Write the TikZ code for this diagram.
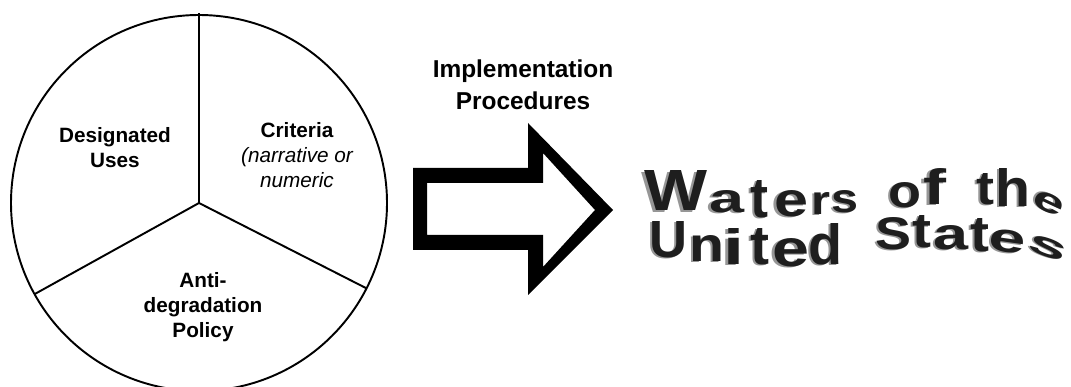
\documentclass[tikz,border=0pt]{standalone}
\usepackage{fontspec}
\setmainfont{Liberation Sans}
\usepackage{graphicx}
\usepackage{tikz}
\usetikzlibrary{calc}
\definecolor{inkblack}{RGB}{30,30,30}
\definecolor{shadowgray}{RGB}{150,150,150}
\newcommand{\shadowed}[1]{\leavevmode\rlap{\kern-0.035em\raisebox{-0.02em}[\height][0pt]{\color{shadowgray}#1}}#1}
\tikzstyle{pielabel}=[align=center, inner sep=0pt, font=\bfseries\fontsize{5.9}{7.1}\selectfont]
\tikzstyle{wletter}=[inner sep=0pt, text=inkblack, font=\bfseries]

\begin{document}
\begin{tikzpicture}
\useasboundingbox (0,0) rectangle (10.71,3.87);

% the pie
\coordinate (c) at (1.99,1.84);
\draw [line width=0.55pt] (c) circle [radius=1.88];
\draw [line width=0.55pt] (c) -- ++(90:1.90);
\draw [line width=0.55pt] (c) -- ++(-151:1.88);
\draw [line width=0.55pt] (c) -- ++(-27:1.88);

\node [pielabel] (uses) at (1.15,2.39) {Designated\\Uses};
\node [pielabel] (criteria) at (2.97,2.32) {Criteria\\{\mdseries\itshape (narrative or}\\{\mdseries\itshape numeric}};
\node [pielabel] (anti) at (2.03,0.795) {Anti-\\degradation\\Policy};

% the arrow
\node [align=center, inner sep=0pt, font=\bfseries\fontsize{6.95}{9.1}\selectfont] (impl) at (5.23,3.02) {Implementation\\Procedures};
\fill [black, even odd rule]
  (4.13,2.19) -- (5.28,2.19) -- (5.28,2.64) -- (6.13,1.77) -- (5.28,0.92) -- (5.28,1.37) -- (4.13,1.37) -- cycle
  (4.27,2.04) -- (5.43,2.04) -- (5.43,2.34) -- (5.95,1.77) -- (5.43,1.20) -- (5.43,1.52) -- (4.27,1.52) -- cycle;

% waters of the
\node [wletter] (w1) at (6.755,1.96) {\resizebox{0.63cm}{0.40cm}{\shadowed{W}}};
\node [wletter] (w2) at (7.265,1.855) {\resizebox{0.35cm}{0.22cm}{\shadowed{a}}};
\node [wletter] (w3) at (7.59,1.88) {\resizebox{0.18cm}{0.37cm}{\shadowed{t}}};
\node [wletter] (w4) at (7.91,1.835) {\resizebox{0.34cm}{0.26cm}{\shadowed{e}}};
\node [wletter] (w5) at (8.21,1.835) {\resizebox{0.19cm}{0.22cm}{\shadowed{r}}};
\node [wletter] (w6) at (8.445,1.855) {\resizebox{0.27cm}{0.22cm}{\shadowed{s}}};
\node [wletter] (w7) at (9.05,1.92) {\resizebox{0.33cm}{0.25cm}{\shadowed{o}}};
\node [wletter] (w8) at (9.345,2.005) {\resizebox{0.23cm}{0.36cm}{\shadowed{f}}};
\node [wletter] (w9) at (9.85,1.98) {\resizebox{0.18cm}{0.31cm}{\shadowed{t}}};
\node [wletter] (w10) at (10.13,1.995) {\resizebox{0.35cm}{0.38cm}{\shadowed{h}}};
\node [wletter, rotate=-25] (w11) at (10.485,1.84) {\resizebox{0.32cm}{0.18cm}{\shadowed{e}}};

% united states
\node [wletter] (u1) at (6.685,1.47) {\resizebox{0.38cm}{0.36cm}{\shadowed{U}}};
\node [wletter] (u2) at (7.07,1.385) {\resizebox{0.35cm}{0.26cm}{\shadowed{n}}};
\node [wletter] (u3) at (7.34,1.405) {\resizebox{0.21cm}{0.36cm}{\shadowed{i}}};
\node [wletter] (u4) at (7.60,1.405) {\resizebox{0.19cm}{0.36cm}{\shadowed{t}}};
\node [wletter] (u5) at (7.905,1.345) {\resizebox{0.37cm}{0.28cm}{\shadowed{e}}};
\node [wletter] (u6) at (8.25,1.43) {\resizebox{0.34cm}{0.41cm}{\shadowed{d}}};
\node [wletter] (u7) at (8.935,1.535) {\resizebox{0.36cm}{0.32cm}{\shadowed{S}}};
\node [wletter] (u8) at (9.22,1.555) {\resizebox{0.19cm}{0.32cm}{\shadowed{t}}};
\node [wletter] (u9) at (9.51,1.495) {\resizebox{0.35cm}{0.24cm}{\shadowed{a}}};
\node [wletter] (u10) at (9.80,1.52) {\resizebox{0.19cm}{0.33cm}{\shadowed{t}}};
\node [wletter, rotate=-8] (u11) at (10.075,1.455) {\resizebox{0.37cm}{0.22cm}{\shadowed{e}}};
\node [wletter, rotate=-20] (u12) at (10.48,1.39) {\resizebox{0.39cm}{0.18cm}{\shadowed{s}}};
\end{tikzpicture}
\end{document}
